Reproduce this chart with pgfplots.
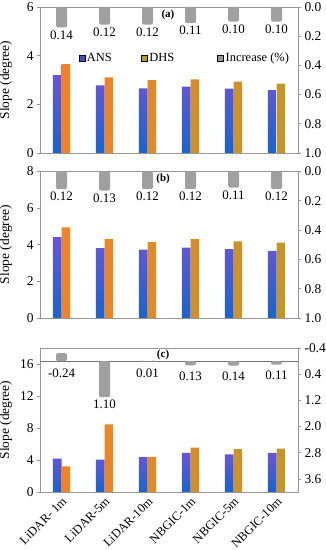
\documentclass[border=0pt]{standalone}
\usepackage{fontspec}
\setmainfont{Liberation Serif}
\usepackage{pgfplots}
\usepackage{pgfplotstable}
\pgfplotsset{compat=1.18}

\definecolor{ansA}{RGB}{105,85,215}
\definecolor{ansB}{RGB}{25,100,205}
\definecolor{dhsA}{RGB}{245,130,40}
\definecolor{dhsB}{RGB}{195,150,40}
\definecolor{ansL}{RGB}{70,75,205}
\definecolor{dhsL}{RGB}{180,160,40}
\definecolor{incL}{RGB}{150,150,150}
\definecolor{incB}{RGB}{160,160,160}
\definecolor{axc}{RGB}{150,150,150}

\pgfplotstableread{
x ans dhs inc
0 3.20 3.65 0.14
1 2.78 3.11 0.12
2 2.66 2.99 0.12
3 2.73 3.03 0.11
4 2.65 2.93 0.10
5 2.58 2.85 0.10
}\dataA
\pgfplotstableread{
x ans dhs inc
0 4.42 4.95 0.12
1 3.82 4.31 0.13
2 3.73 4.15 0.12
3 3.84 4.31 0.12
4 3.76 4.18 0.11
5 3.67 4.12 0.12
}\dataB
\pgfplotstableread{
x ans dhs inc labpos labtxt
0 4.17 3.20 -0.24 0.365 -0.24
1 4.04 8.46 1.10 1.31 1.10
2 4.37 4.40 0.01 0.365 0.01
3 4.88 5.54 0.13 0.456 0.13
4 4.71 5.37 0.14 0.477 0.14
5 4.88 5.42 0.11 0.426 0.11
}\dataC

\pgfplotsset{
 base/.style={
  scale only axis, width=258bp,
  xmin=-0.5, xmax=5.5,
  axis line style={axc},
  tick style={axc, line width=0.6bp},
  major tick length=3bp,
  tick align=outside,
  tick label style={font=\fontsize{13.5}{15}\selectfont},
  /pgf/number format/assume math mode=true,
 },
 leftax/.style={base, ybar=0pt, bar width=8.6bp, ytick pos=left, xtick=\empty,
  ylabel={Slope (degree)},
  ylabel style={at={(axis description cs:-0.095,0.5)}, anchor=south, font=\fontsize{13.5}{15}\selectfont},
  ymin=0},
 rightax/.style={base, ybar, bar width=11bp, axis y line*=right, axis x line=none, y dir=reverse,
  yticklabel style={/pgf/number format/.cd, fixed, fixed zerofill, precision=1}},
 ansbar/.style={draw=none, top color=ansA, bottom color=ansB},
 dhsbar/.style={draw=none, left color=dhsA, right color=dhsB},
 incbar/.style={draw=none, fill=incB, rounded corners=2bp, bar shift=0pt},
 inclab/.style={nodes near coords={\pgfmathprintnumber[fixed,fixed zerofill,precision=2]{\pgfplotspointmeta}},
  every node near coord/.append style={anchor=north, yshift=-2bp, inner sep=1bp, font=\fontsize{13}{15}\selectfont, text=black}},
}
\tikzset{plbl/.style={font=\bfseries\fontsize{11}{13}\selectfont}}

\begin{document}
\begin{tikzpicture}
\useasboundingbox (0,0) rectangle (326bp,550bp);
% ---------- panel a
\begin{axis}[leftax, at={(40bp,397bp)}, anchor=south west, height=146bp, ymax=6, ytick={0,2,4,6}]
\addplot[ansbar] table[x=x,y=ans] \dataA;
\addplot[dhsbar] table[x=x,y=dhs] \dataA;
\node[plbl] at (rel axis cs:0.496,0.945) {(a)};
\end{axis}
\begin{axis}[rightax, at={(40bp,397bp)}, anchor=south west, height=146bp, ymin=0, ymax=1,
  ytick={0,0.2,0.4,0.6,0.8,1.0},
  legend style={draw=none, fill=none, at={(0.137,0.65)}, anchor=west, legend columns=3,
    font=\fontsize{12.5}{14}\selectfont, /tikz/every even column/.append style={column sep=2bp}},
  legend image code/.code={\fill[#1] (0bp,-3bp) rectangle (6bp,3bp);},
  legend entries={\makebox[50bp][l]{ANS},\makebox[64bp][l]{DHS},Increase (\%)}]
\addlegendimage{fill=ansL}
\addlegendimage{fill=dhsL}
\addlegendimage{fill=incL}
\addplot[incbar, inclab] table[x=x,y=inc] \dataA;
\end{axis}
% ---------- panel b
\begin{axis}[leftax, at={(40bp,232bp)}, anchor=south west, height=146.5bp, ymax=8, ytick={0,2,4,6,8}]
\addplot[ansbar] table[x=x,y=ans] \dataB;
\addplot[dhsbar] table[x=x,y=dhs] \dataB;
\node[plbl] at (rel axis cs:0.477,0.95) {(b)};
\end{axis}
\begin{axis}[rightax, at={(40bp,232bp)}, anchor=south west, height=146.5bp, ymin=0, ymax=1,
  ytick={0,0.2,0.4,0.6,0.8,1.0}]
\addplot[incbar, inclab] table[x=x,y=inc] \dataB;
\end{axis}
% ---------- panel c
\begin{axis}[leftax, at={(40bp,58bp)}, anchor=south west, height=144bp, ymax=18, ytick={0,4,8,12,16},
  xtick={0,1,2,3,4,5}, xtick style={draw=none},
  xticklabels={LiDAR- 1m,LiDAR-5m,LiDAR-10m,NBGIC-1m,NBGIC-5m,NBGIC-10m},
  xticklabel style={rotate=45, anchor=north east, inner sep=1bp, font=\fontsize{12.5}{14}\selectfont}]
\addplot[ansbar] table[x=x,y=ans] \dataC;
\addplot[dhsbar] table[x=x,y=dhs] \dataC;
\node[plbl] at (rel axis cs:0.477,0.951) {(c)};
\end{axis}
\begin{axis}[rightax, at={(40bp,58bp)}, anchor=south west, height=144bp, ymin=-0.4, ymax=4.0,
  ytick={-0.4,0.4,1.2,2.0,2.8,3.6},
  extra y ticks={0}, extra y tick labels={},
  extra y tick style={grid=major, major grid style={draw=black!55, line width=0.8bp}, major tick length=0pt}]
\addplot[incbar] table[x=x,y=inc] \dataC;
\addplot[draw=none, bar shift=0pt, forget plot, nodes near coords, point meta=explicit symbolic,
  every node near coord/.append style={anchor=center, font=\fontsize{13}{15}\selectfont, text=black}]
  table[x=x,y=labpos,meta=labtxt] \dataC;
\end{axis}
\end{tikzpicture}
\end{document}
